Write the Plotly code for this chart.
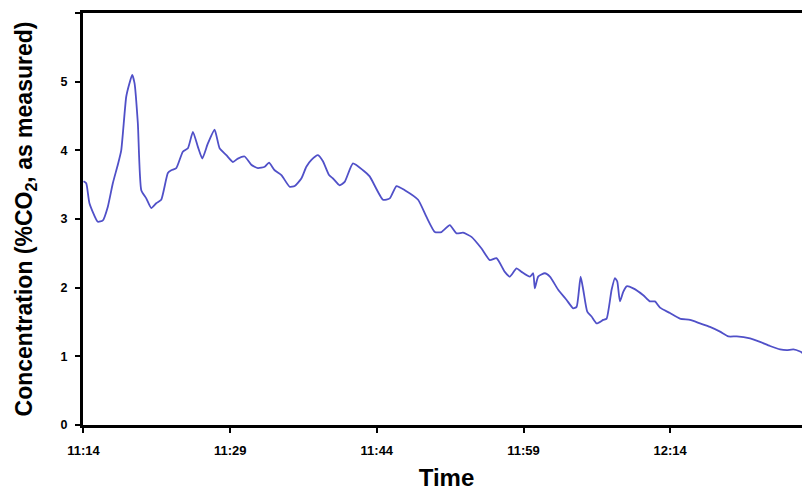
import plotly.graph_objects as go

# minutes elapsed after 11:14
elapsed_min = [0.0, 0.28, 0.61, 1.46, 1.98, 2.49, 3.00, 3.51, 3.86, 4.37, 4.71, 4.98, 5.22, 5.56,
               5.91, 6.42, 6.93, 7.44, 7.95, 8.63, 8.98, 9.49, 10.16, 10.68, 11.19, 11.70, 12.15,
               12.72, 13.41, 13.92, 14.61, 15.28, 15.79, 16.48, 17.16, 17.84, 18.53, 18.97, 19.55,
               20.24, 21.08, 21.60, 22.28, 22.79, 23.31, 23.98, 24.49, 25.11, 25.52, 26.20, 26.71,
               27.56, 28.59, 29.27, 30.63, 31.32, 32.01, 32.86, 34.22, 35.08, 35.93, 36.61, 37.46,
               38.15, 38.82, 39.68, 40.71, 41.56, 42.24, 43.09, 43.60, 44.29, 44.80, 45.65, 45.99,
               46.16, 46.50, 47.18, 47.70, 48.55, 49.41, 50.08, 50.43, 50.84, 51.11, 51.52, 51.96,
               52.48, 53.15, 53.50, 54.01, 54.35, 54.59, 54.86, 55.20, 55.55, 56.22, 57.25, 57.93,
               58.44, 58.96, 59.98, 61.00, 62.03, 63.05, 64.07, 65.10, 65.95, 66.81, 68.17, 69.19,
               70.21, 71.24, 71.92, 72.60, 73.29, 73.80, 74.31]
co2_pct = [3.55, 3.52, 3.23, 2.96, 2.98, 3.18, 3.52, 3.79, 4.00, 4.78, 4.98, 5.10, 4.98, 4.39,
           3.42, 3.30, 3.16, 3.23, 3.28, 3.67, 3.71, 3.74, 3.98, 4.03, 4.27, 4.05, 3.88,
           4.10, 4.30, 4.03, 3.93, 3.83, 3.88, 3.91, 3.79, 3.74, 3.76, 3.82, 3.71,
           3.64, 3.47, 3.48, 3.59, 3.76, 3.86, 3.93, 3.84, 3.64, 3.59, 3.49, 3.54,
           3.81, 3.71, 3.62, 3.28, 3.30, 3.48, 3.42, 3.28, 3.03, 2.81, 2.81, 2.91,
           2.79, 2.80, 2.74, 2.57, 2.40, 2.43, 2.23, 2.16, 2.28, 2.23, 2.16, 2.21,
           1.99, 2.16, 2.21, 2.16, 1.97, 1.82, 1.70, 1.72, 2.16, 1.97, 1.65, 1.58,
           1.48, 1.53, 1.55, 1.97, 2.14, 2.09, 1.80, 1.94, 2.02, 1.99, 1.89, 1.80,
           1.80, 1.71, 1.63, 1.55, 1.53, 1.48, 1.43, 1.36, 1.29, 1.29, 1.26, 1.21,
           1.15, 1.10, 1.09, 1.10, 1.07, 1.03, 1.04]

x_tick_vals = [0, 15, 30, 45, 60]
x_tick_text = ["11:14", "11:29", "11:44", "11:59", "12:14"]
y_tick_vals = [0, 1, 2, 3, 4, 5, 6]

fig = go.Figure()
fig.add_trace(go.Scatter(
    x=elapsed_min, y=co2_pct, mode="lines",
    line=dict(color="#5050c8", width=1.8, shape="spline", smoothing=0.5),
    showlegend=False,
))

fig.update_layout(
    width=802, height=483,
    margin=dict(l=75, r=0, t=5, b=66, autoexpand=False),
    paper_bgcolor="white", plot_bgcolor="white",
    font=dict(family="Arial, Liberation Sans, sans-serif", color="black"),
)
fig.update_xaxes(
    range=[-0.05, 74.3],
    tickmode="array", tickvals=x_tick_vals, ticktext=x_tick_text,
    ticks="outside", ticklen=5, tickwidth=2, tickcolor="black",
    tickfont=dict(size=13, weight="bold"), ticklabelstandoff=6,
    showline=True, linecolor="black", linewidth=3, mirror=True,
    showgrid=False, zeroline=False, automargin=False,
    title=dict(text="Time", font=dict(size=24, weight="bold"), standoff=13),
)
fig.update_yaxes(
    range=[0, 6],
    tickmode="array", tickvals=y_tick_vals,
    ticks="outside", ticklen=5, tickwidth=2, tickcolor="black",
    tickfont=dict(size=12.5, weight="bold"), ticklabelstandoff=5,
    showline=True, linecolor="black", linewidth=3,
    showgrid=False, zeroline=False, automargin=False,
    title=dict(text="Concentration (%CO<sub>2</sub>, as measured)",
               font=dict(size=23, weight="bold"), standoff=22),
)

fig.write_html("out.html")
